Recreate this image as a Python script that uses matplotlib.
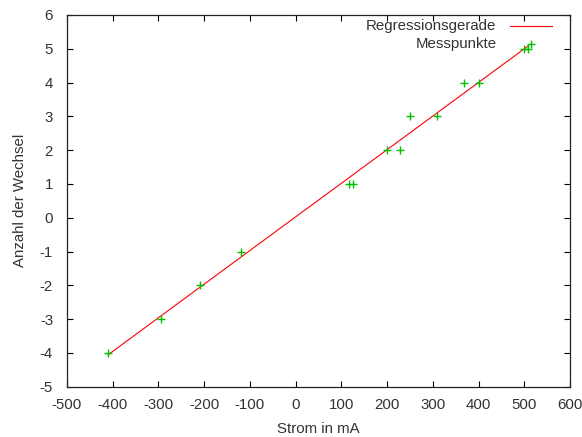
import numpy as np
import matplotlib
matplotlib.use("Agg")
import matplotlib.pyplot as plt
from matplotlib.lines import Line2D

strom = [-410, -294, -210, -120, 117, 126, 200, 228, 250, 310, 369, 400, 500, 509]
wechsel = [-4, -3, -2, -1, 1, 1, 2, 2, 3, 3, 4, 4, 5, 5]
xticks = list(range(-500, 601, 100))
yticks = list(range(-5, 7))

plt.rcParams['font.family'] = ['Liberation Sans', 'DejaVu Sans']
plt.rcParams['font.size'] = 10.8
plt.rcParams['axes.unicode_minus'] = False

fig = plt.figure(figsize=(5.82, 4.37), dpi=100)
ax = fig.add_axes([67/582, 1 - 386.7/437, 503/582, 371.7/437])

x = np.array(strom, dtype=float)
y = np.array(wechsel, dtype=float)
m, b = np.polyfit(x, y, 1)
xl = np.linspace(x.min(), x.max(), 200)
ax.plot(xl, m * xl + b, color='#ff0000', lw=0.8)
ax.plot(x, y, ls='none', marker='+', ms=6, mew=1.0, color='#00c000')

ax.set_xlim(-500, 600)
ax.set_ylim(-5, 6)
ax.set_xticks(xticks)
ax.set_yticks(yticks)
ax.tick_params(direction='in', length=4, width=0.8, top=True, right=True,
               labelcolor='#333333')
ax.tick_params(axis='x', pad=8)
ax.tick_params(axis='y', pad=10)
for s in ax.spines.values():
    s.set_linewidth(0.9)
    s.set_color('#222222')
ax.set_xlabel('Strom in mA', color='#333333', labelpad=7)
ax.set_ylabel('Anzahl der Wechsel', color='#333333', labelpad=9)

# gnuplot-style key (text right-aligned, sample on the right)
tx = 0.854
ax.text(tx, 0.970, 'Regressionsgerade', transform=ax.transAxes, ha='right', va='center', color='#333333')
ax.text(tx, 0.921, 'Messpunkte', transform=ax.transAxes, ha='right', va='center', color='#333333')
ax.add_line(Line2D([0.881, 0.964], [0.970, 0.970], transform=ax.transAxes, color='#ff0000', lw=0.8))
ax.add_line(Line2D([0.922], [0.921], transform=ax.transAxes, ls='none', marker='+', ms=6, mew=1.0, color='#00c000'))

fig.savefig('out.png', dpi=100)
